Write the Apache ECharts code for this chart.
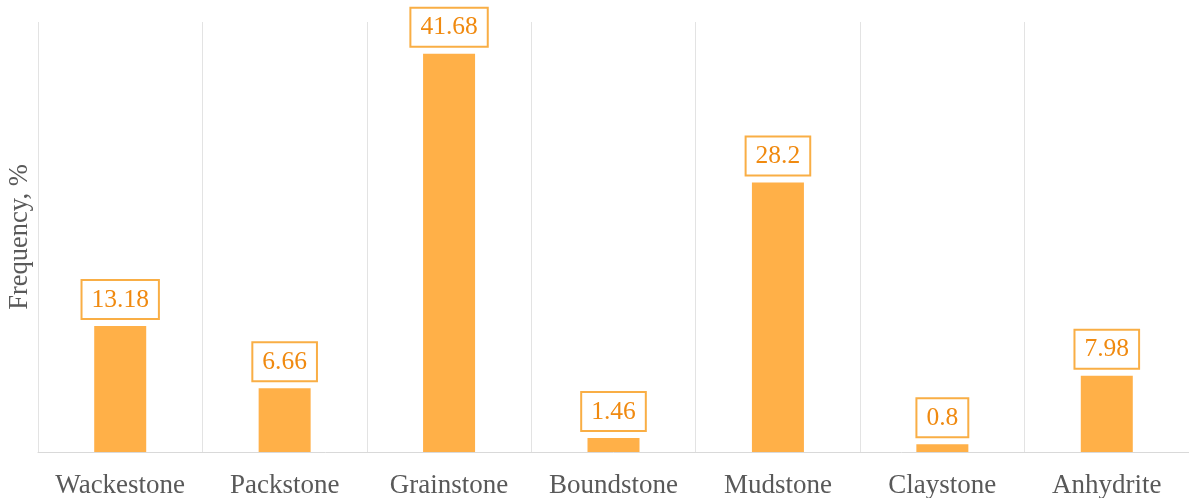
<!DOCTYPE html>
<html><head><meta charset="utf-8">
<script src="https://cdn.jsdelivr.net/npm/echarts@6/dist/echarts.min.js"></script>
<style>html,body{margin:0;padding:0;background:#fff}#c{width:1189px;height:498px}</style>
</head><body><div id="c"></div>
<script>
const categories = ['Wackestone','Packstone','Grainstone','Boundstone','Mudstone','Claystone','Anhydrite'];
const frequency = [13.18, 6.66, 41.68, 1.46, 28.2, 0.8, 7.98];
const yAxisName = 'Frequency, %';

const chart = echarts.init(document.getElementById('c'));
chart.setOption({
  animation: false,
  grid: {left: 38, right: 0, top: 22, bottom: 46, containLabel: false, outerBoundsMode: 'none'},
  xAxis: {
    type: 'category', data: categories,
    axisLine: {show: true, lineStyle: {color: '#d9d9d9', width: 1}},
    axisTick: {show: false},
    splitLine: {show: true, lineStyle: {color: '#e3e3e3', width: 1}},
    axisLabel: {color: '#595959', fontFamily: 'Liberation Serif', fontSize: 27, margin: 20, interval: 0}
  },
  yAxis: {
    type: 'value', min: 0, max: 45,
    name: yAxisName, nameLocation: 'middle', nameGap: 4, nameRotate: 90,
    nameTextStyle: {color: '#595959', fontFamily: 'Liberation Serif', fontSize: 26.5},
    axisLine: {show: false}, axisTick: {show: false}, axisLabel: {show: false},
    splitLine: {show: false}
  },
  series: [{
    type: 'bar', data: frequency, barWidth: 52,
    itemStyle: {color: '#FFB048'},
    label: {
      show: true, position: 'top', distance: 8,
      color: '#F08A10', fontFamily: 'Liberation Serif', fontSize: 25.5,
      borderColor: '#F9AE45', borderWidth: 2, padding: [6, 9, 5, 9],
      backgroundColor: '#fff'
    }
  }]
});
</script></body></html>
